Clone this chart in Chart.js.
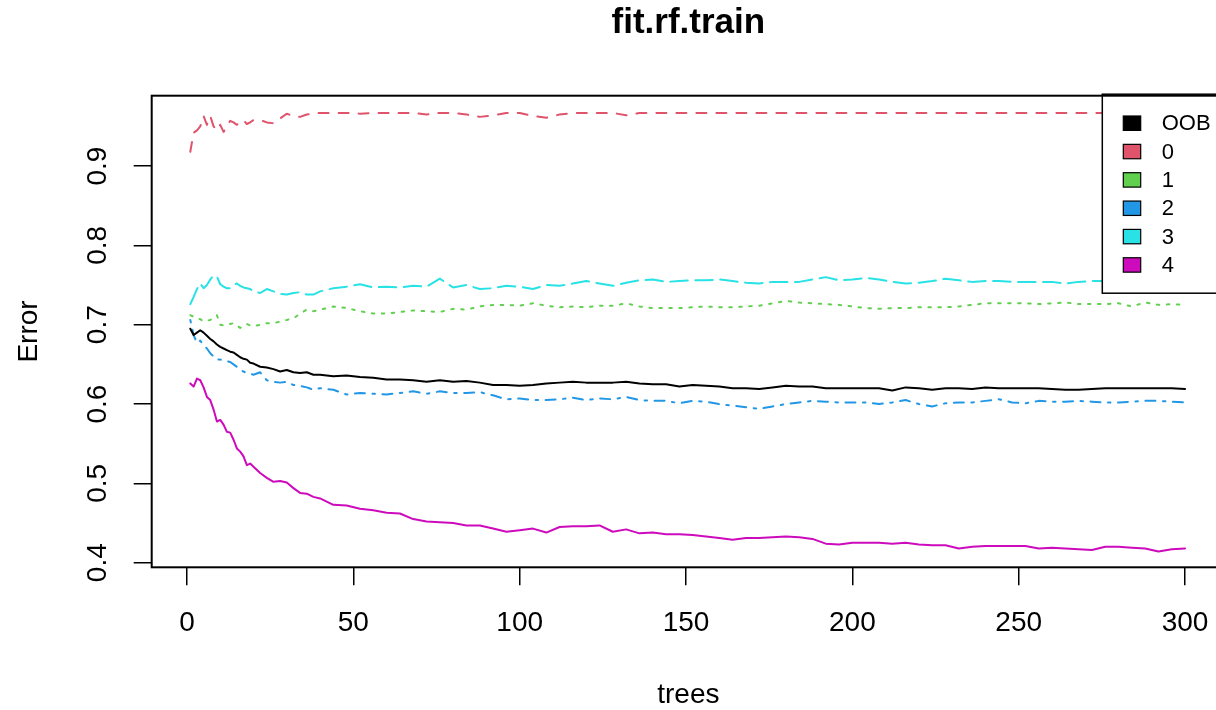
<!DOCTYPE html>
<html>
<head>
<meta charset="utf-8">
<title>fit.rf.train</title>
<script src="https://cdn.jsdelivr.net/npm/chart.js@4.4.1/dist/chart.umd.min.js"></script>
<style>
	html, body { margin: 0; padding: 0; background: #fff; overflow: hidden; }
	canvas { display: block; }
</style>
</head>
<body>
<canvas id="err-chart" width="1226" height="710"></canvas>
<script>
const trees = [
	1, 2, 3, 4, 5, 6, 7, 8, 9, 10, 11, 12, 13, 14, 15, 16, 17, 18, 19, 20,
	22, 24, 26, 28, 30, 32, 34, 36, 38, 40,
	44, 48, 52, 56, 60, 64, 68, 72, 76, 80, 84, 88, 92, 96, 100, 104, 108, 112, 116, 120,
	124, 128, 132, 136, 140, 144, 148, 152, 156, 160, 164, 168, 172, 176, 180, 184, 188, 192, 196, 200,
	204, 208, 212, 216, 220, 224, 228, 232, 236, 240, 244, 248, 252, 256, 260, 264, 268, 272, 276, 280,
	284, 288, 292, 296, 300,
]

const errOOB = [
	0.695, 0.687, 0.690, 0.693, 0.690, 0.686, 0.682, 0.679, 0.675, 0.672, 0.670, 0.668, 0.666, 0.665, 0.662, 0.659, 0.657, 0.656, 0.652, 0.651,
	0.647, 0.646, 0.644, 0.641, 0.643, 0.640, 0.639, 0.640, 0.637, 0.637,
	0.635, 0.636, 0.634, 0.633, 0.631, 0.631, 0.630, 0.628, 0.630, 0.628, 0.629, 0.627, 0.624, 0.624, 0.623, 0.624, 0.626, 0.627, 0.628, 0.627,
	0.627, 0.627, 0.628, 0.626, 0.625, 0.625, 0.622, 0.624, 0.623, 0.622, 0.620, 0.620, 0.619, 0.621, 0.623, 0.622, 0.622, 0.620, 0.620, 0.620,
	0.620, 0.620, 0.617, 0.621, 0.620, 0.618, 0.620, 0.620, 0.619, 0.621, 0.620, 0.620, 0.620, 0.620, 0.619, 0.618, 0.618, 0.619, 0.620, 0.620,
	0.620, 0.620, 0.620, 0.620, 0.619,
]
const err0 = [
	0.918, 0.942, 0.945, 0.950, 0.963, 0.952, 0.963, 0.950, 0.945, 0.952, 0.943, 0.950, 0.957, 0.955, 0.952, 0.956, 0.958, 0.953, 0.955, 0.958,
	0.958, 0.955, 0.954, 0.960, 0.966, 0.963, 0.962, 0.965, 0.966, 0.967,
	0.967, 0.967, 0.966, 0.967, 0.967, 0.967, 0.967, 0.965, 0.967, 0.967, 0.965, 0.962, 0.964, 0.967, 0.967, 0.963, 0.961, 0.965, 0.967, 0.967,
	0.967, 0.967, 0.964, 0.967, 0.967, 0.967, 0.967, 0.967, 0.967, 0.967, 0.967, 0.967, 0.967, 0.967, 0.967, 0.967, 0.967, 0.967, 0.967, 0.967,
	0.967, 0.967, 0.967, 0.967, 0.967, 0.967, 0.967, 0.967, 0.967, 0.967, 0.967, 0.967, 0.967, 0.967, 0.967, 0.967, 0.967, 0.967, 0.967, 0.967,
	0.967, 0.967, 0.967, 0.967, 0.967,
]
const err1 = [
	0.712, 0.710, 0.708, 0.707, 0.704, 0.705, 0.706, 0.709, 0.712, 0.700, 0.699, 0.700, 0.701, 0.702, 0.699, 0.696, 0.699, 0.701, 0.699, 0.698,
	0.700, 0.702, 0.702, 0.704, 0.706, 0.708, 0.714, 0.719, 0.717, 0.719,
	0.723, 0.721, 0.717, 0.714, 0.714, 0.716, 0.718, 0.717, 0.716, 0.720, 0.719, 0.723, 0.725, 0.725, 0.724, 0.727, 0.724, 0.722, 0.723, 0.722,
	0.724, 0.724, 0.727, 0.723, 0.721, 0.721, 0.721, 0.722, 0.723, 0.722, 0.722, 0.723, 0.724, 0.727, 0.730, 0.728, 0.727, 0.726, 0.725, 0.723,
	0.721, 0.720, 0.721, 0.721, 0.722, 0.722, 0.722, 0.723, 0.725, 0.727, 0.727, 0.727, 0.727, 0.726, 0.727, 0.728, 0.726, 0.726, 0.726, 0.727,
	0.723, 0.728, 0.725, 0.726, 0.725,
]
const err2 = [
	0.706, 0.687, 0.677, 0.680, 0.674, 0.670, 0.664, 0.660, 0.656, 0.656, 0.655, 0.654, 0.653, 0.650, 0.647, 0.643, 0.641, 0.639, 0.638, 0.637,
	0.640, 0.630, 0.628, 0.627, 0.628, 0.624, 0.623, 0.621, 0.618, 0.620,
	0.618, 0.612, 0.614, 0.613, 0.612, 0.614, 0.616, 0.613, 0.616, 0.614, 0.614, 0.615, 0.611, 0.606, 0.607, 0.605, 0.605, 0.606, 0.608, 0.605,
	0.607, 0.606, 0.609, 0.605, 0.604, 0.604, 0.601, 0.604, 0.603, 0.600, 0.598, 0.596, 0.594, 0.597, 0.600, 0.602, 0.604, 0.603, 0.602, 0.602,
	0.602, 0.600, 0.602, 0.605, 0.600, 0.597, 0.601, 0.602, 0.602, 0.604, 0.606, 0.602, 0.601, 0.604, 0.603, 0.603, 0.604, 0.603, 0.602, 0.602,
	0.603, 0.604, 0.604, 0.603, 0.602,
]
const err3 = [
	0.726, 0.735, 0.745, 0.752, 0.746, 0.750, 0.757, 0.762, 0.761, 0.751, 0.748, 0.746, 0.746, 0.750, 0.752, 0.749, 0.747, 0.746, 0.745, 0.742,
	0.740, 0.745, 0.742, 0.739, 0.738, 0.740, 0.741, 0.738, 0.738, 0.742,
	0.746, 0.748, 0.751, 0.747, 0.748, 0.747, 0.749, 0.748, 0.758, 0.747, 0.750, 0.745, 0.746, 0.749, 0.748, 0.745, 0.750, 0.749, 0.752, 0.755,
	0.752, 0.749, 0.753, 0.756, 0.757, 0.754, 0.755, 0.756, 0.756, 0.757, 0.755, 0.753, 0.752, 0.754, 0.754, 0.754, 0.757, 0.760, 0.756, 0.757,
	0.759, 0.757, 0.754, 0.752, 0.753, 0.755, 0.758, 0.756, 0.754, 0.755, 0.755, 0.754, 0.754, 0.754, 0.754, 0.752, 0.754, 0.755, 0.755, 0.755,
	0.755, 0.755, 0.755, 0.755, 0.755,
]
const err4 = [
	0.626, 0.622, 0.632, 0.630, 0.621, 0.609, 0.605, 0.593, 0.578, 0.580, 0.574, 0.565, 0.564, 0.555, 0.544, 0.540, 0.534, 0.523, 0.525, 0.521,
	0.513, 0.507, 0.502, 0.503, 0.501, 0.494, 0.488, 0.487, 0.483, 0.481,
	0.473, 0.472, 0.468, 0.466, 0.463, 0.462, 0.455, 0.452, 0.451, 0.450, 0.447, 0.447, 0.443, 0.439, 0.441, 0.443, 0.438, 0.445, 0.446, 0.446,
	0.447, 0.439, 0.442, 0.437, 0.438, 0.436, 0.436, 0.435, 0.433, 0.431, 0.429, 0.431, 0.431, 0.432, 0.433, 0.432, 0.430, 0.424, 0.423, 0.425,
	0.425, 0.425, 0.424, 0.425, 0.423, 0.422, 0.422, 0.418, 0.420, 0.421, 0.421, 0.421, 0.421, 0.418, 0.419, 0.418, 0.417, 0.416, 0.420, 0.420,
	0.419, 0.418, 0.414, 0.417, 0.418,
]

const seriesNames = ['OOB', '0', '1', '2', '3', '4']
const xTicks = [0, 50, 100, 150, 200, 250, 300]
const yTicks = [0.4, 0.5, 0.6, 0.7, 0.8, 0.9]

// R default palette and matplot line types (lty 1:5 recycled)
const lineColors = ['#000000', '#DF536B', '#61D04F', '#2297E6', '#28E2E5', '#CD0BBC']
const lineDashes = [[], [10, 10], [2.5, 7.5], [2.5, 7.5, 10, 7.5], [17.5, 7.5], []]

const FONT = "'Liberation Sans', Arial, Helvetica, sans-serif"
Chart.defaults.font.family = FONT
Chart.defaults.color = '#000'

const allSeries = [errOOB, err0, err1, err2, err3, err4]

const datasets = allSeries.map((values, i) => ({
	label: seriesNames[i],
	data: values.map((v, k) => ({ x: trees[k], y: v })),
	borderColor: lineColors[i],
	backgroundColor: lineColors[i],
	borderWidth: 2,
	borderDash: lineDashes[i],
	borderCapStyle: 'round',
	borderJoinStyle: 'round',
	pointRadius: 0,
	tension: 0,
	fill: false,
}))

// plot frame + legend box (drawn over the lines, like R's legend with white bg)
const frameAndLegend = {
	id: 'frameAndLegend',
	afterDatasetsDraw(chart) {
		const { ctx, chartArea } = chart
		ctx.save()

		const lx = chartArea.right - 122.7
		const ly = chartArea.top - 1.5
		ctx.fillStyle = '#fff'
		ctx.fillRect(lx, ly, 200, 199)
		ctx.strokeStyle = '#000'
		ctx.lineWidth = 1.5
		ctx.strokeRect(lx, ly, 200, 199)

		ctx.font = `22px ${FONT}`
		ctx.textBaseline = 'middle'
		ctx.textAlign = 'left'
		chart.data.datasets.forEach((ds, i) => {
			const cy = ly + 29 + i * 28.35
			ctx.fillStyle = ds.borderColor
			ctx.fillRect(lx + 21, cy - 7.2, 17.4, 14.4)
			ctx.lineWidth = 1.2
			ctx.strokeStyle = '#000'
			ctx.strokeRect(lx + 21, cy - 7.2, 17.4, 14.4)
			ctx.fillStyle = '#000'
			ctx.fillText(ds.label, lx + 59.4, cy + 1)
		})

		ctx.lineWidth = 2
		ctx.strokeStyle = '#000'
		ctx.strokeRect(chartArea.left, chartArea.top, chartArea.width, chartArea.height)
		ctx.restore()
	},
}

new Chart(document.getElementById('err-chart').getContext('2d'), {
	type: 'line',
	data: { datasets },
	plugins: [frameAndLegend],
	options: {
		responsive: false,
		animation: false,
		layout: { padding: { left: 0, right: 1, top: 0, bottom: 0 } },
		plugins: {
			legend: { display: false },
			tooltip: { enabled: false },
			title: {
				display: true,
				text: 'fit.rf.train',
				fullSize: false,
				color: '#000',
				font: { size: 35, weight: 'bold' },
				padding: { top: 2, bottom: 51.7 },
			},
		},
		scales: {
			x: {
				type: 'linear',
				min: -10.6,
				max: 312,
				afterBuildTicks: scale => {
					scale.ticks = xTicks.map(v => ({ value: v }))
				},
				afterFit: scale => {
					scale.height = 142.7
					scale.paddingLeft = 0
					scale.paddingRight = 0
				},
				ticks: {
					font: { size: 28 },
					padding: 21,
					maxRotation: 0,
					autoSkip: false,
					callback: v => String(v),
				},
				grid: {
					display: true,
					drawOnChartArea: false,
					drawTicks: true,
					tickLength: 18,
					color: '#000',
					lineWidth: 1.5,
				},
				border: { display: false },
				title: {
					display: true,
					text: 'trees',
					font: { size: 28 },
					padding: { top: 0, bottom: -2 },
				},
			},
			y: {
				type: 'linear',
				min: 0.3942,
				max: 0.9887,
				afterBuildTicks: scale => {
					scale.ticks = yTicks.map(v => ({ value: v }))
				},
				afterFit: scale => {
					scale.width = 151.7
					scale.paddingTop = 0
					scale.paddingBottom = 0
				},
				ticks: {
					font: { size: 28 },
					padding: 16,
					minRotation: 90,
					maxRotation: 90,
					crossAlign: 'center',
					autoSkip: false,
					callback: v => v.toFixed(1),
				},
				grid: {
					display: true,
					drawOnChartArea: false,
					drawTicks: true,
					tickLength: 18,
					color: '#000',
					lineWidth: 1.5,
				},
				border: { display: false },
				title: {
					display: true,
					text: 'Error',
					font: { size: 28 },
					padding: { top: 12, bottom: 0 },
				},
			},
		},
	},
})
</script>
</body>
</html>
